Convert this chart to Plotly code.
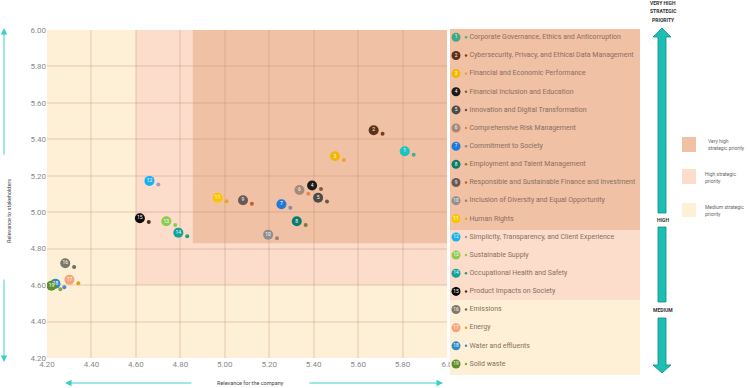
import plotly.graph_objects as go

W, H = 750, 388

# ---------------- data ----------------
topics = [
    "Corporate Governance, Ethics and Anticorruption",
    "Cybersecurity, Privacy, and Ethical Data Management",
    "Financial and Economic Performance",
    "Financial Inclusion and Education",
    "Innovation and Digital Transformation",
    "Comprehensive Risk Management",
    "Commitment to Society",
    "Employment and Talent Management",
    "Responsible and Sustainable Finance and Investment",
    "Inclusion of Diversity and Equal Opportunity",
    "Human Rights",
    "Simplicity, Transparency, and Client Experience",
    "Sustainable Supply",
    "Occupational Health and Safety",
    "Product Impacts on Society",
    "Emissions",
    "Energy",
    "Water and effluents",
    "Solid waste",
]
numbers = [str(i) for i in range(1, 20)]
company = [5.85, 5.71, 5.536, 5.433, 5.46, 5.376, 5.295, 5.364, 5.122, 5.235,
           5.008, 4.701, 4.777, 4.831, 4.658, 4.322, 4.341, 4.278, 4.26]
stakeholders = [5.315, 5.43, 5.287, 5.127, 5.059, 5.102, 5.024, 4.93, 5.046, 4.857,
                5.06, 5.152, 4.93, 4.868, 4.947, 4.70, 4.61, 4.588, 4.577]
priority = ["very high"] * 11 + ["high"] * 4 + ["medium"] * 4

tick_values = [4.2, 4.4, 4.6, 4.8, 5.0, 5.2, 5.4, 5.6, 5.8, 6.0]
x_tick_labels = ["4.20", "4.40", "4.60", "4.80", "5.00", "5.20", "5.40", "5.60", "5.80", "6.0"]
y_tick_labels = ["4.20", "4.40", "4.60", "4.80", "5.00", "5.20", "5.40", "5.60", "5.80", "6.00"]

# priority zones (lower-left corner thresholds, axis units)
zone_medium = (4.2, 4.2)
zone_high = (4.6, 4.6)
zone_very_high = (4.856, 4.83)

priority_labels = ["Very high<br>strategic priority", "High strategic<br>priority", "Medium strategic<br>priority"]

# ---------------- styles ----------------
C_VH = "#F0C1A4"
C_H = "#FCDDCB"
C_M = "#FEF0D6"
TEAL = "#1DBFB5"
TEAL_LINE = "#3CCFC6"
FONT = "Roboto"
GRID = "rgba(190,140,110,0.2)"

badge_colors = ["#1CC4C0", "#5E3218", "#F2B705", "#1E1A18", "#4E4A48", "#A88878",
                "#1E7AD6", "#0E7A6A", "#6A5A55", "#8E8E8E", "#F7C600", "#18B0F0",
                "#8CCB50", "#0FA39A", "#0A0A0A", "#7F7868", "#F4A57C", "#2D8BC8", "#5E8F2A"]
legend_badge_colors = ["#3DAA86"] + badge_colors[1:]
dot_colors = ["#4CAF8A", "#7A3E1E", "#F0A030", "#8A5A3A", "#7A5040", "#E08A50",
              "#8A8AA0", "#7A7A3A", "#C06030", "#A08070", "#F0A030", "#A0A0B8",
              "#8CCB50", "#2A9A80", "#5A2A1A", "#6A6A6A", "#E0A020", "#4A8AC0", "#8AAA40"]

badge_dx, badge_dy = -0.04, 0.02

fig = go.Figure()

# dots
fig.add_trace(go.Scatter(
    x=company, y=stakeholders, mode="markers",
    marker=dict(size=4, color=dot_colors),
    hovertext=topics, hoverinfo="text", showlegend=False, xaxis="x", yaxis="y"))
# badges
fig.add_trace(go.Scatter(
    x=[v + badge_dx for v in company], y=[v + badge_dy for v in stakeholders],
    mode="markers+text", text=numbers, textposition="middle center",
    textfont=dict(size=5, color="white", family=FONT),
    marker=dict(size=10, color=badge_colors, line=dict(width=0)),
    hoverinfo="skip", showlegend=False, xaxis="x", yaxis="y"))

# ---------------- legend panel (pixel coordinates on x2/y2) ----------------
row0, row_step = 37.3, 18.15
rows = [row0 + row_step * i for i in range(len(topics))]
fig.add_trace(go.Scatter(
    x=[456] * len(rows), y=rows, mode="markers+text", text=numbers,
    textposition="middle center", textfont=dict(size=4.8, color="white", family=FONT),
    marker=dict(size=9, color=legend_badge_colors),
    hoverinfo="skip", showlegend=False, xaxis="x2", yaxis="y2"))
fig.add_trace(go.Scatter(
    x=[466] * len(rows), y=rows, mode="markers",
    marker=dict(size=2.5, color=dot_colors),
    hoverinfo="skip", showlegend=False, xaxis="x2", yaxis="y2"))
fig.add_trace(go.Scatter(
    x=[469.5] * len(rows), y=rows, mode="text", text=topics,
    textposition="middle right", textfont=dict(size=7.0, color="#8B6F60", family=FONT),
    hoverinfo="skip", showlegend=False, xaxis="x2", yaxis="y2"))

shapes = []
# zones in main plot
for (x0, y0), col in [(zone_medium, C_M), (zone_high, C_H), (zone_very_high, C_VH)]:
    shapes.append(dict(type="rect", xref="x", yref="y", x0=x0, y0=y0, x1=6.0, y1=6.0,
                       fillcolor=col, line=dict(width=0), layer="below"))
# legend panel backgrounds
for y0, y1, col in [(29, 230, C_VH), (230, 300, C_H), (300, 375, C_M)]:
    shapes.append(dict(type="rect", xref="x2", yref="y2", x0=450, x1=640, y0=y0, y1=y1,
                       fillcolor=col, line=dict(width=0), layer="below"))
# priority arrows
arrow_style = dict(fillcolor=TEAL, line=dict(color="#0F8C86", width=0.8), xref="x2", yref="y2", layer="above")
shapes.append(dict(type="path", path="M 658 37 L 653 37 L 662 28 L 671 37 L 666 37 L 666 213 L 658 213 Z", **arrow_style))
shapes.append(dict(type="path", path="M 658 227 L 666 227 L 666 302 L 658 302 Z", **arrow_style))
shapes.append(dict(type="path", path="M 658 318 L 666 318 L 666 365 L 671 365 L 662 373 L 653 365 L 658 365 Z", **arrow_style))
# swatches
for (y0, y1), col in zip([(137, 152), (169, 184), (203, 217)], [C_VH, C_H, C_M]):
    shapes.append(dict(type="rect", xref="x2", yref="y2", x0=682, x1=696, y0=y0, y1=y1,
                       fillcolor=col, line=dict(width=0)))

annotations = []
def txt(x, y, s, size=5.5, color="#333", bold=False, xanchor="center", angle=0, align="center"):
    annotations.append(dict(x=x, y=y, xref="x2", yref="y2", text=("<b>%s</b>" % s) if bold else s,
                            showarrow=False, xanchor=xanchor, yanchor="middle", textangle=angle,
                            align=align, font=dict(size=size, color=color, family=FONT)))

txt(663, 2.5, "VERY HIGH", 5, bold=True)
txt(663, 10.5, "STRATEGIC", 5, bold=True)
txt(663, 19.5, "PRIORITY", 5, bold=True)
txt(663, 220, "HIGH", 5, bold=True)
txt(663, 310, "MEDIUM", 5, bold=True)
for xl, yc, lab in zip([706, 703, 703], [144, 177, 210], priority_labels):
    txt(xl, yc, lab, 5, color="#666", xanchor="left", align="left")

txt(9, 211, "Relevance to stakeholders", 5.5, color="#444", angle=-90)
txt(250, 383, "Relevance for the company", 5.5, color="#444")

for (hx, hy), (tx, ty) in [((4, 28), (4, 156)), ((4, 362), (4, 278)),
                           ((65, 383), (193, 383)), ((443, 383), (308, 383))]:
    annotations.append(dict(x=hx, y=hy, ax=tx, ay=ty, xref="x2", yref="y2", axref="x2", ayref="y2",
                            text="", showarrow=True, arrowhead=2, arrowsize=1.3, arrowwidth=1,
                            arrowcolor=TEAL_LINE))

fig.update_layout(
    width=W, height=H, margin=dict(l=0, r=0, t=0, b=0, autoexpand=False),
    paper_bgcolor="white", plot_bgcolor="rgba(0,0,0,0)",
    font=dict(family=FONT),
    xaxis=dict(domain=[47 / W, 447 / W], range=[4.2, 6.0], tickvals=tick_values, ticktext=x_tick_labels,
               showgrid=True, gridcolor=GRID, gridwidth=1.5, zeroline=False,
               showline=False, ticks="", tickfont=dict(size=8, color="#8a8a8a"), fixedrange=True,
               automargin=False),
    yaxis=dict(domain=[1 - 358 / H, 1 - 30 / H], range=[4.2, 6.0], tickvals=tick_values, ticktext=y_tick_labels,
               showgrid=True, gridcolor=GRID, gridwidth=1.5, zeroline=False,
               showline=False, ticks="", tickfont=dict(size=8, color="#8a8a8a"), fixedrange=True,
               automargin=False),
    xaxis2=dict(domain=[0, 1], range=[0, W], visible=False, fixedrange=True, automargin=False),
    yaxis2=dict(domain=[0, 1], range=[H, 0], visible=False, fixedrange=True, automargin=False),
    shapes=shapes, annotations=annotations,
)

fig.write_html("out.html", config={"displayModeBar": False},
               post_script="document.body.style.margin='0px';document.body.style.overflow='hidden';")
